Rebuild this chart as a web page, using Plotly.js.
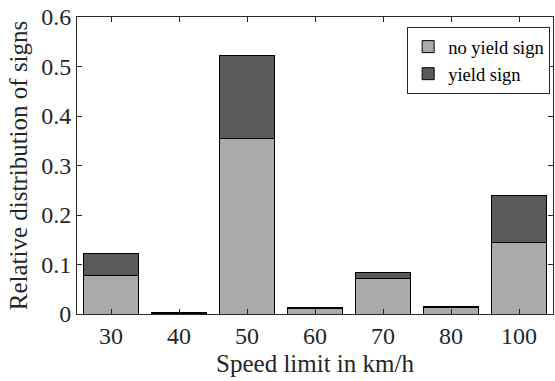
<!DOCTYPE html>
<html>
<head>
<meta charset="utf-8">
<script src="https://cdn.plot.ly/plotly-3.0.1.min.js"></script>
<style>html,body{margin:0;padding:0;background:#fff;}#chart{width:555px;height:381px;}</style>
</head>
<body>
<div id="chart"></div>
<script>
const categories = ['30', '40', '50', '60', '70', '80', '100'];
const noYieldSign = [0.077, 0.002, 0.354, 0.012, 0.072, 0.013, 0.144];
const yieldSign = [0.046, 0.002, 0.168, 0.002, 0.011, 0.003, 0.095];
const seriesNames = ['no yield sign', 'yield sign'];
const yTicks = [0, 0.1, 0.2, 0.3, 0.4, 0.5, 0.6];
const yTickText = ['0', '0.1', '0.2', '0.3', '0.4', '0.5', '0.6'];

const font = "'Liberation Serif', 'Times New Roman', serif";
const traces = [
  {type: 'bar', x: categories, y: noYieldSign, name: seriesNames[0],
   marker: {color: '#aaaaaa', line: {color: '#000', width: 1}}, width: 0.8},
  {type: 'bar', x: categories, y: yieldSign, name: seriesNames[1],
   marker: {color: '#5a5a5a', line: {color: '#000', width: 1}}, width: 0.8}
];
const layout = {
  width: 555, height: 381,
  margin: {l: 77, r: 2, t: 17, b: 67},
  barmode: 'stack',
  paper_bgcolor: '#fff', plot_bgcolor: '#fff',
  font: {family: font, color: '#262626', size: 24},
  showlegend: true,
  legend: {x: 0.994, xanchor: 'right', y: 0.966, yanchor: 'top', traceorder: 'normal',
    bordercolor: '#262626', borderwidth: 1, bgcolor: '#fff',
    font: {family: font, size: 18.5, color: '#000'}, tracegroupgap: 0},
  xaxis: {
    type: 'category', range: [-0.5, 6.5],
    showline: true, mirror: 'ticks', linecolor: '#262626', linewidth: 1,
    ticks: 'inside', ticklen: 5, tickcolor: '#262626',
    showgrid: false, zeroline: false,
    tickfont: {family: font, size: 24, color: '#262626'},
    title: {text: 'Speed limit in km/h', font: {family: font, size: 25, color: '#262626'}, standoff: 6}
  },
  yaxis: {
    range: [0, 0.6], tickvals: yTicks, ticktext: yTickText,
    showline: true, mirror: 'ticks', linecolor: '#262626', linewidth: 1,
    ticks: 'inside', ticklen: 5, tickcolor: '#262626',
    showgrid: false, zeroline: false,
    tickfont: {family: font, size: 24, color: '#262626'},
    title: {text: 'Relative distribution of signs', font: {family: font, size: 25, color: '#262626'}, standoff: 6}
  }
};
Plotly.newPlot('chart', traces, layout, {displayModeBar: false, staticPlot: true});
</script>
</body>
</html>
